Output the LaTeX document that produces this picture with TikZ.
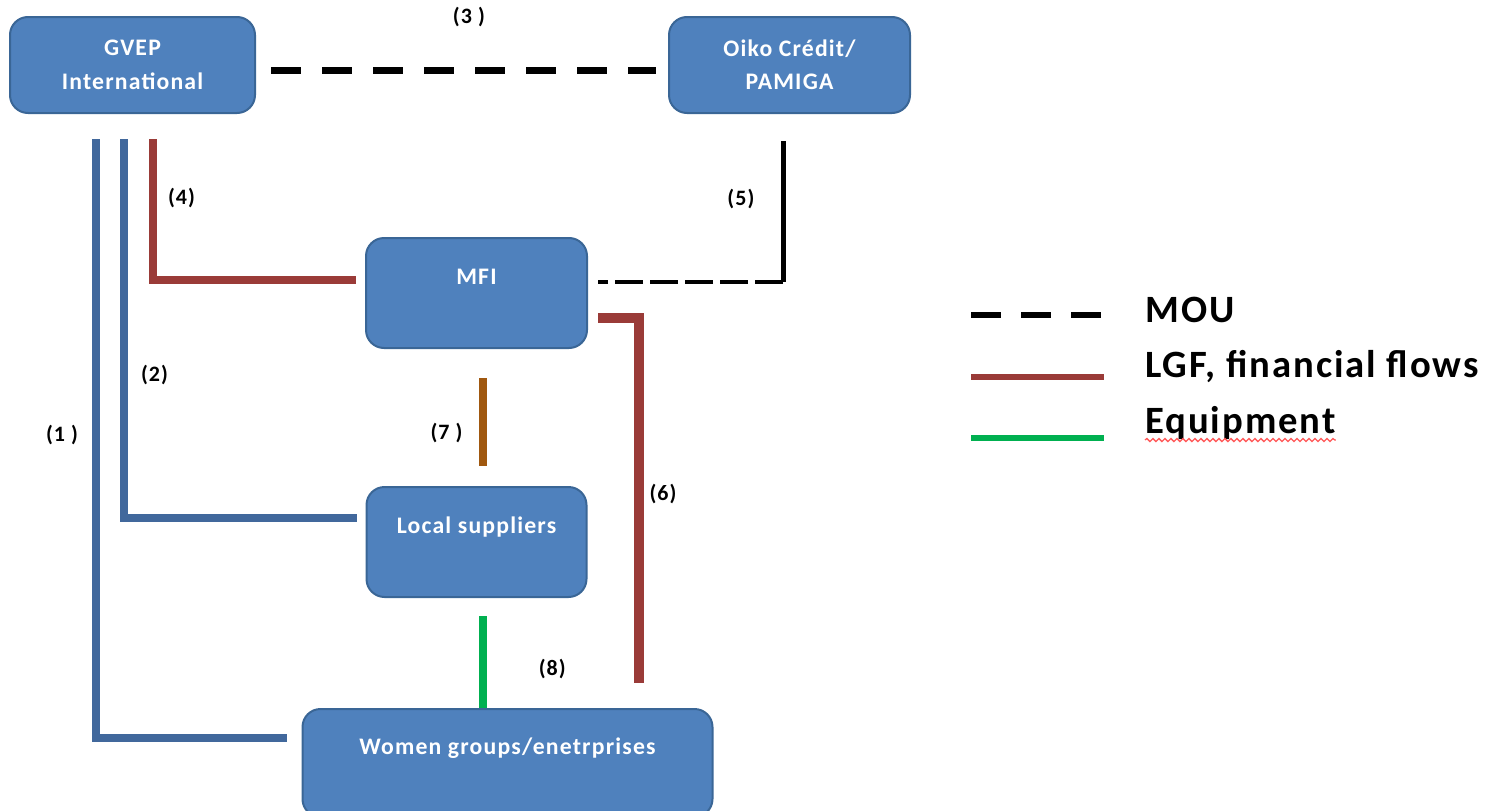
\documentclass[tikz,border=0pt]{standalone}
\usepackage{fontspec}
\setmainfont{Carlito}
\usetikzlibrary{positioning,decorations.pathmorphing}
\definecolor{boxblue}{HTML}{4F81BD}
\definecolor{boxedge}{HTML}{3A6696}
\definecolor{flowblue}{HTML}{41689C}
\definecolor{finred}{HTML}{9A3B38}
\definecolor{supplybrown}{HTML}{A0580F}
\definecolor{equipgreen}{HTML}{00B050}
\tikzset{
  org/.style={draw=boxedge,line width=0.4mm,rounded corners=3.6mm,fill=boxblue,text=white,align=center,font=\fontsize{13.5}{19}\selectfont\bfseries\addfontfeature{LetterSpace=5}},
  lbl/.style={font=\fontsize{12.5}{14}\selectfont\bfseries\addfontfeature{LetterSpace=5},inner sep=0.5mm},
  legtext/.style={font=\fontsize{22}{26}\selectfont\bfseries\addfontfeature{LetterSpace=5},inner sep=0pt,anchor=base west},
  blueflow/.style={draw=flowblue,line width=1.6mm},
  finflow/.style={draw=finred,line width=1.6mm},
  supplyflow/.style={draw=supplybrown,line width=1.6mm},
  equipflow/.style={draw=equipgreen,line width=1.5mm},
  mouline/.style={draw=black,line width=1.4mm,dash pattern=on 6mm off 4.2mm},
  moulink/.style={draw=black,line width=1mm},
  spell/.style={draw=red!65,line width=0.25mm,decorate,decoration={snake,amplitude=0.3mm,segment length=1.2mm}}
}
\begin{document}
\begin{tikzpicture}
  \useasboundingbox (0,0) rectangle (299mm,-162.2mm);
  % boxes
  \node[org,minimum width=49mm,minimum height=19.2mm] (gvep) at (26.5mm,-13mm) {GVEP\\International};
  \node[org,minimum width=48.2mm,minimum height=19.2mm,right=82.4mm of gvep] (oiko) {Oiko Crédit/\\PAMIGA};
  \node[org,minimum width=44.2mm,minimum height=22mm,below right=24.6mm and 21.8mm of gvep] (mfi) {MFI\\~};
  \node[org,minimum width=44mm,minimum height=22mm,below=27.4mm of mfi] (local) {Local suppliers\\~};
  \node[org,minimum width=82mm,minimum height=21.6mm,below=22mm of local,xshift=6.2mm] (women) {Women groups/enetrprises\\~};
  % links
  \draw[blueflow] ([shift={(17.4mm,-5mm)}]gvep.south west) |- ([shift={(-3mm,5mm)}]women.west) node[lbl,pos=0.247,left=2.3mm] {(1 )};
  \draw[blueflow] ([shift={(23mm,-5mm)}]gvep.south west) |- ([shift={(-1.8mm,4.9mm)}]local.west) node[lbl,pos=0.312,right=2.1mm] {(2)};
  \draw[finflow] ([shift={(28.8mm,-5mm)}]gvep.south west) |- ([shift={(-1.8mm,2.6mm)}]mfi.west) node[lbl,pos=0.21,right=1.7mm] {(4)};
  \draw[mouline] ([shift={(3mm,-1mm)}]gvep.east) -- ([shift={(-2.4mm,-1mm)}]oiko.west) node[lbl,pos=0.514,above=7.5mm] {(3 )};
  \coordinate (mfiout) at ([shift={(2mm,2.2mm)}]mfi.east);
  \coordinate (bend) at ([xshift=-1.3mm]oiko.south |- mfiout);
  \draw[moulink] ([shift={(-1.3mm,-5.4mm)}]oiko.south) -- (bend) node[lbl,pos=0.41,left=4.7mm] {(5)};
  \draw[moulink,line width=0.9mm,dash pattern=on 5.6mm off 1.4mm] (bend) -- (mfiout);
  \draw[finflow,line width=2mm] ([shift={(2mm,-5mm)}]mfi.east) -| ([shift={(26.2mm,5mm)}]women.north) node[lbl,pos=0.741,right=0.7mm] {(6)};
  \draw[supplyflow] ([shift={(1.2mm,-5.8mm)}]mfi.south) -- ([shift={(1.2mm,4mm)}]local.north) node[lbl,pos=0.625,left=2.7mm] {(7 )};
  \draw[equipflow] ([shift={(1.3mm,-3.6mm)}]local.south) -- ([xshift=1.3mm]local.south |- women.north) node[lbl,pos=0.58,right=9.9mm] {(8)};
  % legend
  \node[legtext] (lmou) at (229mm,-64.4mm) {MOU};
  \node[legtext] (lfin) at (229mm,-75.4mm) {LGF, financial flows};
  \node[legtext] (lequip) at (229mm,-86.6mm) {Equipment};
  \draw[mouline,line width=1.2mm,dash pattern=on 6mm off 4mm] ([shift={(-34.8mm,1.5mm)}]lmou.base west) -- ([shift={(-8.2mm,1.5mm)}]lmou.base west);
  \draw[finflow,line width=1.2mm] ([shift={(-34.8mm,0mm)}]lfin.base west) -- ([shift={(-8.2mm,0mm)}]lfin.base west);
  \draw[equipflow,line width=1.2mm] ([shift={(-34.8mm,-0.9mm)}]lequip.base west) -- ([shift={(-8.2mm,-0.9mm)}]lequip.base west);
  \draw[spell] ([yshift=-1.4mm]lequip.base west) -- ([yshift=-1.4mm]lequip.base east);
\end{tikzpicture}
\end{document}
